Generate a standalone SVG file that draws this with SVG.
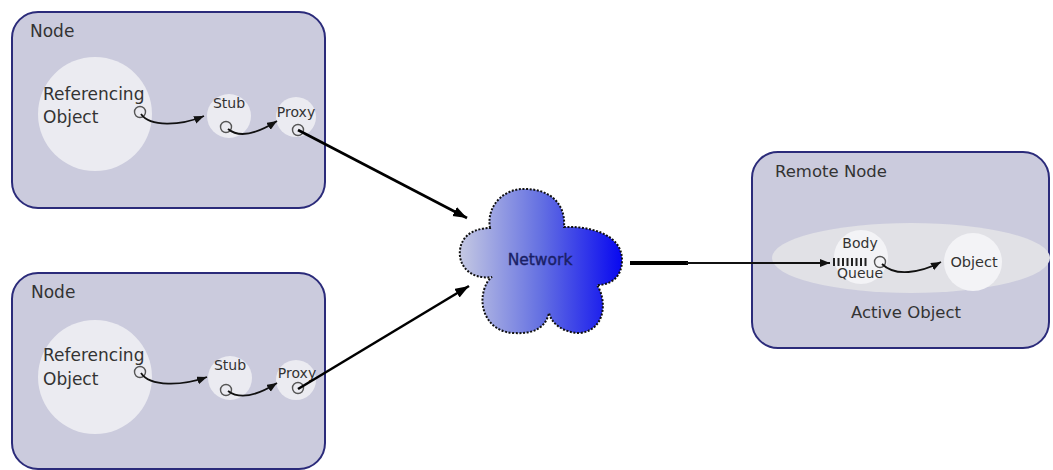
<svg xmlns="http://www.w3.org/2000/svg" width="1053" height="470" viewBox="0 0 1053 470">
  <style>
    .box { fill: #cbcbdd; stroke: #2b2b7a; stroke-width: 2; }
    .blob { fill: #ebebf1; }
    .inner { fill: #f3f3f6; }
    .port { fill: none; stroke: #555; stroke-width: 1.4; }
    .lbl { font-family: "DejaVu Sans", "Liberation Sans", sans-serif; fill: #333; }
    .big { font-size: 17px; }
    .mid { font-size: 16.5px; }
    .small { font-size: 14px; }
    .wire { fill: none; stroke: #111; stroke-width: 1.8; }
    .thick { fill: none; stroke: #000; stroke-width: 2.6; }
  </style>
  <defs>
    <marker id="head" markerUnits="userSpaceOnUse" markerWidth="12" markerHeight="10" refX="10" refY="4" orient="auto">
      <path d="M0,0 L10,4 L0,8 Z" fill="#111"/>
    </marker>
    <marker id="bighead" markerUnits="userSpaceOnUse" markerWidth="16" markerHeight="12" refX="14" refY="5" orient="auto">
      <path d="M0,0 L14,5 L0,10 Z" fill="#000"/>
    </marker>
    <linearGradient id="cloudFill" gradientUnits="userSpaceOnUse" x1="460" y1="0" x2="622" y2="0">
      <stop offset="0" stop-color="#c4c8e2"/>
      <stop offset="0.5" stop-color="#6470e2"/>
      <stop offset="1" stop-color="#0808f0"/>
    </linearGradient>
  </defs>

  <rect width="1053" height="470" fill="#ffffff"/>

  <!-- upper client node -->
  <g id="node-top">
    <rect class="box" x="12" y="12" width="313" height="196" rx="26"/>
    <text class="lbl big" x="30" y="37">Node</text>
    <circle class="blob" cx="95" cy="114" r="57"/>
    <circle class="blob" cx="229" cy="116" r="22"/>
    <circle class="blob" cx="296" cy="117" r="20"/>
    <text class="lbl big" x="43" y="100">Referencing</text>
    <text class="lbl big" x="43" y="123">Object</text>
    <text class="lbl small" x="229" y="108" text-anchor="middle">Stub</text>
    <text class="lbl small" x="296" y="117" text-anchor="middle">Proxy</text>
    <circle class="port" cx="140" cy="112" r="5.5"/>
    <circle class="port" cx="226" cy="127" r="5.5"/>
    <circle class="port" cx="298" cy="130" r="5.5"/>
  </g>

  <!-- lower client node -->
  <g id="node-bottom" transform="translate(0,261)">
    <rect class="box" x="12" y="12" width="313" height="196" rx="26"/>
    <text class="lbl big" x="31" y="37">Node</text>
    <circle class="blob" cx="95" cy="116" r="57"/>
    <circle class="blob" cx="230" cy="117" r="22"/>
    <circle class="blob" cx="296" cy="119" r="20"/>
    <text class="lbl big" x="43" y="100">Referencing</text>
    <text class="lbl big" x="43" y="124">Object</text>
    <text class="lbl small" x="230" y="109" text-anchor="middle">Stub</text>
    <text class="lbl small" x="297" y="117" text-anchor="middle">Proxy</text>
    <circle class="port" cx="140" cy="111" r="5.5"/>
    <circle class="port" cx="226" cy="129" r="5.5"/>
    <circle class="port" cx="298" cy="127" r="5.5"/>
  </g>

  <!-- network cloud -->
  <g id="network">
    <path d="M490 228 C486 205 505 188 525 189 C548 189 566 202 564 227 C585 226 622 232 622 260 C622 278 610 285 597 285 C607 300 606 330 580 333 C565 333 552 325 549 313 C545 330 530 334 515 333 C490 333 478 310 484 290 C486 283 489 279 492 277 C470 280 458 265 460 250 C462 233 478 228 490 228 Z" fill="url(#cloudFill)" stroke="#111" stroke-width="2" stroke-dasharray="2 1.6"/>
    <text x="540" y="265" text-anchor="middle" font-family="DejaVu Sans, Liberation Sans, sans-serif" font-size="15.5" fill="#1a1f66" stroke="#1a1f66" stroke-width="0.4">Network</text>
  </g>

  <!-- remote node with its active object -->
  <g id="remote-node">
    <rect class="box" x="752" y="152" width="297" height="196" rx="26"/>
    <text class="lbl mid" x="775" y="177">Remote Node</text>
    <ellipse cx="911" cy="258" rx="139" ry="35" fill="#e1e1e6"/>
    <circle class="inner" cx="861" cy="257" r="27"/>
    <circle class="inner" cx="973" cy="262" r="29"/>
    <text class="lbl small" x="860" y="248" text-anchor="middle">Body</text>
    <path d="M834 258V266M838.5 258V266M843 258V266M847.5 258V266M852 258V266M856.5 258V266M861 258V266M865.5 258V266" stroke="#222" stroke-width="2"/>
    <circle class="port" cx="880" cy="262" r="5.5"/>
    <text class="lbl small" x="860" y="278" text-anchor="middle">Queue</text>
    <text class="lbl" x="974" y="267" text-anchor="middle" font-size="14.5">Object</text>
    <text class="lbl mid" x="906" y="318" text-anchor="middle">Active Object</text>
  </g>

  <!-- connectors -->
  <g id="connectors">
    <path class="wire" d="M141 114 C150 127 180 126 204 116" marker-end="url(#head)"/>
    <path class="wire" d="M228 129 C240 139 258 133 277 121" marker-end="url(#head)"/>
    <path class="thick" d="M298 130 L467 218" marker-end="url(#bighead)"/>
    <path class="wire" d="M141 373 C150 387 182 386 207 377" marker-end="url(#head)"/>
    <path class="wire" d="M228 391 C240 400 258 395 277 383" marker-end="url(#head)"/>
    <path class="thick" d="M298 389 L469 286" marker-end="url(#bighead)"/>
    <path d="M630 263 L688 263" stroke="#000" stroke-width="4"/>
    <path class="wire" d="M686 263 L830 263" stroke-width="2" marker-end="url(#head)"/>
    <path class="wire" d="M882 264 C895 277 920 273 941 262" marker-end="url(#head)"/>
  </g>
</svg>
